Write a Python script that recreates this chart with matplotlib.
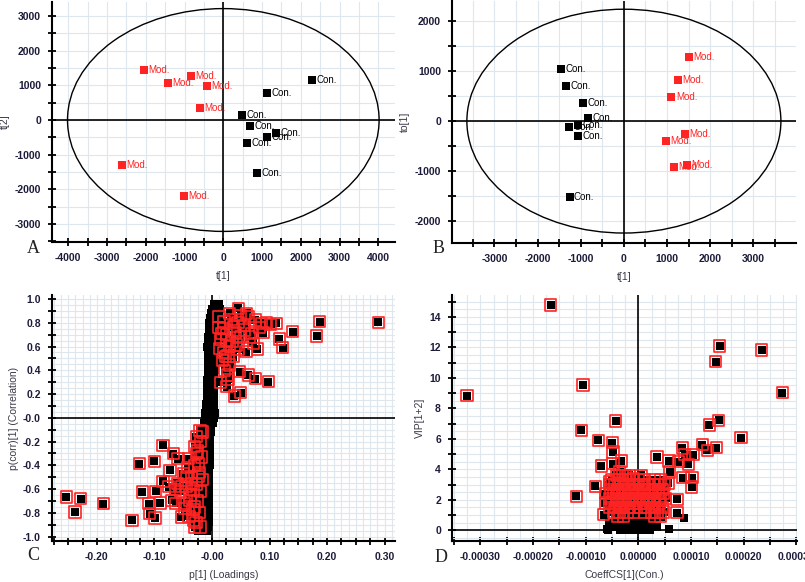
import numpy as np
import matplotlib.pyplot as plt
from matplotlib.patches import Ellipse
from matplotlib.ticker import MultipleLocator, FuncFormatter

plt.rcParams['font.family'] = 'Liberation Sans'

# ---- A: PCA scores t[1] / t[2]
a_mod_x = [-2050, -830, -1420, -430, -610, -2610, -1010]
a_mod_y = [1450, 1270, 1060, 990, 360, -1300, -2200]
a_con_x = [2290, 1120, 480, 700, 1360, 1120, 620, 870]
a_con_y = [1140, 770, 130, -160, -370, -480, -660, -1540]
a_ellipse = (4020, 3210)

# ---- B: OPLS-DA scores t[1] / to[1]
b_con_x = [-1460, -1350, -950, -830, -1275, -1065, -1065, -1260]
b_con_y = [1040, 710, 355, 70, -110, -80, -300, -1520]
b_mod_x = [1510, 1250, 1100, 1420, 980, 1460, 1165]
b_mod_y = [1290, 820, 490, -260, -400, -880, -930]
b_ellipse = (3640, 2245)

# ---- C: S-plot, non significant band (three columns of points per level)
c_band_y = [0.96, 0.92, 0.88, 0.84, 0.80, 0.76, 0.72, 0.68, 0.64, 0.60,
            0.56, 0.52, 0.48, 0.44, 0.40, 0.36, 0.32, 0.28, 0.24, 0.20,
            0.16, 0.12, 0.08, 0.04, 0.00, -0.04, -0.08, -0.12, -0.16, -0.20,
            -0.24, -0.28, -0.32, -0.36, -0.40, -0.44, -0.48, -0.52, -0.56, -0.60,
            -0.64, -0.68, -0.72, -0.76, -0.80, -0.84, -0.88, -0.92, -0.95]
c_band_xl = [0.004, 0.000, -0.002, -0.004, -0.005, -0.006, -0.006, -0.007, -0.007, -0.008,
             -0.007, -0.007, -0.007, -0.007, -0.007, -0.007, -0.008, -0.008, -0.008, -0.009,
             -0.009, -0.010, -0.011, -0.012, -0.013, -0.014, -0.014, -0.015, -0.015, -0.016,
             -0.016, -0.017, -0.017, -0.018, -0.018, -0.019, -0.019, -0.020, -0.020, -0.021,
             -0.021, -0.022, -0.022, -0.023, -0.023, -0.024, -0.025, -0.025, -0.024]
c_band_xm = [0.008, 0.007, 0.005, 0.004, 0.003, 0.002, 0.002, 0.001, 0.000, 0.000,
             0.000, -0.001, -0.001, -0.001, -0.002, -0.002, -0.002, -0.003, -0.003, -0.003,
             -0.004, -0.004, -0.005, -0.005, -0.006, -0.007, -0.008, -0.009, -0.009, -0.010,
             -0.010, -0.011, -0.011, -0.012, -0.012, -0.012, -0.013, -0.013, -0.013, -0.014,
             -0.014, -0.014, -0.015, -0.015, -0.015, -0.016, -0.016, -0.016, -0.016]
c_band_xr = [0.012, 0.014, 0.012, 0.011, 0.010, 0.009, 0.008, 0.008, 0.007, 0.007,
             0.006, 0.006, 0.005, 0.005, 0.005, 0.004, 0.004, 0.004, 0.003, 0.003,
             0.003, 0.003, 0.004, 0.005, 0.004, 0.001, -0.001, -0.002, -0.003, -0.003,
             -0.003, -0.004, -0.004, -0.004, -0.004, -0.005, -0.005, -0.005, -0.005, -0.005,
             -0.005, -0.005, -0.006, -0.006, -0.006, -0.006, -0.006, -0.007, -0.008]

# ---- C: S-plot, significant variables
c_sig_x = [0.289, 0.187, 0.182, 0.140, 0.117, 0.123, 0.112, 0.102, 0.086, 0.089,
           0.079, 0.098, 0.075, 0.063, 0.048, 0.050, 0.039, 0.028, 0.046, 0.060,
           0.075, 0.059, 0.072, 0.037, 0.031, 0.021, 0.031, 0.037, 0.057, 0.049,
           0.026, 0.017, 0.014, 0.023, 0.043, 0.026, 0.063, 0.069,
           0.012, 0.020, 0.025, 0.015, 0.030, 0.020, 0.040, 0.045, 0.033, 0.050,
           0.055, 0.018, 0.022, 0.027, 0.015, 0.035, 0.012, 0.028, 0.045, 0.065,
           0.082, 0.095,
           -0.253, -0.228, -0.238, -0.189, -0.139, -0.126, -0.100, -0.085, -0.121, -0.098,
           -0.099, -0.110, -0.108, -0.090, -0.070, -0.085, -0.067, -0.059, -0.064, -0.053,
           -0.047, -0.041, -0.044, -0.032, -0.027, -0.021, -0.030, -0.024, -0.032, -0.038,
           -0.030, -0.050, -0.073, -0.035, -0.024, -0.021, -0.027, -0.053,
           -0.020, -0.025, -0.018, -0.030, -0.022, -0.035, -0.028, -0.020, -0.038, -0.025,
           -0.033, -0.022, -0.040, -0.028, -0.045, -0.055, -0.060, -0.017, -0.042, -0.016,
           -0.030, -0.063, -0.075, -0.048]
c_sig_y = [0.803, 0.809, 0.688, 0.725, 0.663, 0.590, 0.795, 0.787, 0.795, 0.716,
           0.579, 0.303, 0.331, 0.360, 0.388, 0.213, 0.183, 0.323, 0.921, 0.879,
           0.823, 0.556, 0.626, 0.514, 0.444, 0.809, 0.879, 0.767, 0.739, 0.683,
           0.654, 0.711, 0.584, 0.514, 0.612, 0.261, 0.851, 0.711,
           0.85, 0.75, 0.70, 0.66, 0.60, 0.55, 0.72, 0.80, 0.83, 0.86,
           0.78, 0.48, 0.40, 0.36, 0.30, 0.64, 0.76, 0.52, 0.58, 0.68,
           0.76, 0.80,
           -0.666, -0.680, -0.792, -0.722, -0.862, -0.385, -0.365, -0.230, -0.624, -0.618,
           -0.843, -0.722, -0.806, -0.716, -0.694, -0.534, -0.301, -0.343, -0.604, -0.834,
           -0.764, -0.343, -0.497, -0.862, -0.160, -0.104, -0.244, -0.385, -0.610, -0.694,
           -0.750, -0.469, -0.441, -0.553, -0.497, -0.919, -0.301, -0.581,
           -0.20, -0.28, -0.33, -0.40, -0.46, -0.50, -0.56, -0.62, -0.65, -0.70,
           -0.77, -0.80, -0.83, -0.88, -0.58, -0.62, -0.55, -0.52, -0.42, -0.12,
           -0.92, -0.72, -0.58, -0.72]

# ---- D: VIP vs coefficients (x in units of 1e-4)
d_sig_x = [-1.665, 1.544, 2.342, 1.468, -1.051, -3.253, 2.728, -0.430, 1.525, 1.342,
           -1.082, 1.949, -0.759, -0.494, -0.481, 1.215, 1.304, 1.481, 0.835, 1.038,
           0.880, 0.354, 0.949, 0.759, 0.582, -0.703, -0.323, -0.481, 0.595, 0.848,
           1.019, 1.013, -0.816, -1.177, -0.627, 0.734, 0.734, -0.658, -0.627, -0.544,
           0.570, -0.354, -0.240, -0.100,
           -0.42, -0.30, -0.18, 0.05,
           -0.50, -0.38, -0.25, -0.12, 0.00, 0.12, 0.30, 0.42,
           -0.55, -0.45, -0.33, -0.20, -0.08, 0.05, 0.18, 0.28, 0.38, 0.50,
           -0.52, -0.40, -0.30, -0.18, -0.05, 0.08, 0.20, 0.32, 0.45,
           -0.48, -0.36, -0.25, -0.12, 0.00, 0.12, 0.25, 0.38, 0.48,
           -0.55, -0.42, -0.30, -0.18, -0.05, 0.08, 0.20, 0.30, 0.42, 0.52,
           -0.50, -0.38, -0.25, -0.12, 0.02, 0.15, 0.28, 0.40,
           -0.55, -0.44, -0.32, -0.20, -0.08, 0.05, 0.18, 0.30, 0.45,
           -0.48, -0.36, -0.22, -0.10, 0.12, 0.25, 0.35, 0.48,
           -0.40, -0.28, 0.30, 0.42]
d_sig_y = [14.77, 12.08, 11.82, 11.05, 9.52, 8.82, 9.02, 7.16, 7.22, 6.91,
           6.56, 6.08, 5.91, 5.75, 5.14, 5.62, 5.25, 5.43, 5.40, 4.97,
           4.97, 4.81, 4.33, 4.49, 4.55, 4.22, 4.55, 4.38, 3.83, 3.46,
           3.46, 2.84, 2.89, 2.23, 2.41, 2.03, 1.16, 1.03, 1.79, 3.17,
           3.11, 3.83, 3.60, 3.40,
           3.6, 3.6, 3.6, 3.6,
           3.3, 3.3, 3.3, 3.3, 3.3, 3.3, 3.3, 3.3,
           3.0, 3.0, 3.0, 3.0, 3.0, 3.0, 3.0, 3.0, 3.0, 3.0,
           2.7, 2.7, 2.7, 2.7, 2.7, 2.7, 2.7, 2.7, 2.7,
           2.4, 2.4, 2.4, 2.4, 2.4, 2.4, 2.4, 2.4, 2.4,
           2.1, 2.1, 2.1, 2.1, 2.1, 2.1, 2.1, 2.1, 2.1, 2.1,
           1.8, 1.8, 1.8, 1.8, 1.8, 1.8, 1.8, 1.8,
           1.5, 1.5, 1.5, 1.5, 1.5, 1.5, 1.5, 1.5, 1.5,
           1.2, 1.2, 1.2, 1.2, 1.2, 1.2, 1.2, 1.2,
           0.9, 0.9, 0.9, 0.9]
d_low_x = [0.861, 0.582, -0.589,
           -0.25, -0.12, 0.00, 0.12,
           -0.45, -0.32, -0.20, -0.08, 0.05, 0.18, 0.28,
           -0.55, -0.42, -0.30, -0.18, -0.05, 0.08, 0.20, 0.32,
           -0.52, -0.38, -0.25, -0.12, 0.00, 0.12, 0.25, 0.36,
           -0.58, -0.35, -0.20, -0.05, 0.10, 0.22]
d_low_y = [0.83, 0.09, 0.09,
           1.1, 1.1, 1.1, 1.1,
           0.8, 0.8, 0.8, 0.8, 0.8, 0.8, 0.8,
           0.5, 0.5, 0.5, 0.5, 0.5, 0.5, 0.5, 0.5,
           0.25, 0.25, 0.25, 0.25, 0.25, 0.25, 0.25, 0.25,
           0.05, 0.05, 0.05, 0.05, 0.05, 0.05]

RED = '#ff2424'
TICKC = '#1c1c3a'
LABC = '#3a3a48'
GRIDC = '#dfe7ee'

fig = plt.figure(figsize=(8.05, 5.82), dpi=100)
axA = fig.add_axes([52/805, 1-242/582, 343/805, 240/582])
axB = fig.add_axes([452/805, 1-243/582, 344/805, 242/582])
axC = fig.add_axes([52/805, 1-541/582, 343/805, 246/582])
axD = fig.add_axes([452/805, 1-541/582, 345/805, 246/582])


def style(ax, xtick, xlab_every, xfmt, ytick, ylab_every, yfmt, xgrid, ygrid):
    for s in ['top', 'right']:
        ax.spines[s].set_visible(False)
    for s in ['left', 'bottom']:
        ax.spines[s].set_linewidth(1.5)
    ax.xaxis.set_major_locator(MultipleLocator(xtick))
    ax.yaxis.set_major_locator(MultipleLocator(ytick))
    ax.xaxis.set_minor_locator(MultipleLocator(xgrid))
    ax.yaxis.set_minor_locator(MultipleLocator(ygrid))

    def fx(v, p):
        k = v / xlab_every
        return xfmt(v) if abs(k - round(k)) < 1e-6 else ''

    def fy(v, p):
        k = v / ylab_every
        return yfmt(v) if abs(k - round(k)) < 1e-6 else ''
    ax.xaxis.set_major_formatter(FuncFormatter(fx))
    ax.yaxis.set_major_formatter(FuncFormatter(fy))
    ax.tick_params(which='major', direction='inout', length=6, width=1.3,
                   labelsize=7.5, labelcolor=TICKC, pad=5)
    ax.tick_params(which='minor', length=0)
    for lab in ax.get_xticklabels() + ax.get_yticklabels():
        lab.set_fontweight('bold')
    ax.grid(True, which='both', color=GRIDC, linewidth=0.8)
    ax.set_axisbelow(True)
    ax.axhline(0, color='black', linewidth=1.2, zorder=1.5)
    ax.axvline(0, color='black', linewidth=1.2, zorder=1.5)


def score_plot(ax, mod_x, mod_y, con_x, con_y, ell):
    ax.add_patch(Ellipse((0, 0), 2*ell[0], 2*ell[1], fill=False, color='black', lw=1.0, zorder=2))
    ax.scatter(mod_x, mod_y, marker='s', s=34, color=RED, zorder=3, linewidths=0)
    ax.scatter(con_x, con_y, marker='s', s=34, color='black', zorder=3, linewidths=0)
    for x, y in zip(mod_x, mod_y):
        ax.annotate('Mod.', (x, y), xytext=(3.2, 0), textcoords='offset points',
                    va='center', ha='left', fontsize=7, color=RED, zorder=4)
    for x, y in zip(con_x, con_y):
        ax.annotate('Con.', (x, y), xytext=(3.2, 0), textcoords='offset points',
                    va='center', ha='left', fontsize=7, color='black', zorder=4)


def int_fmt(v):
    return f"{v:.0f}" if abs(v) > 1e-9 else "0"


# A
score_plot(axA, a_mod_x, a_mod_y, a_con_x, a_con_y, a_ellipse)
axA.set_xlim(-4420, 4430)
axA.set_ylim(-3515, 3400)
style(axA, 500, 1000, int_fmt, 500, 1000, int_fmt, 500, 500)
axA.set_xlabel('t[1]', fontsize=7.5, color=LABC, labelpad=6)
axA.set_ylabel('t[2]', fontsize=7.5, color=LABC, labelpad=3)

# B
score_plot(axB, b_mod_x, b_mod_y, b_con_x, b_con_y, b_ellipse)
axB.set_xlim(-3985, 3990)
axB.set_ylim(-2445, 2410)
style(axB, 500, 1000, int_fmt, 500, 1000, int_fmt, 500, 500)
axB.set_xlabel('t[1]', fontsize=7.5, color=LABC, labelpad=6)
axB.set_ylabel('to[1]', fontsize=7.5, color=LABC, labelpad=3)

# C
for bx in (c_band_xl, c_band_xm, c_band_xr):
    axC.scatter(bx, c_band_y, marker='s', s=34, color='black', linewidths=0, zorder=2)
axC.scatter(c_sig_x, c_sig_y, marker='s', s=32, color='black', linewidths=0, zorder=3)
axC.scatter(c_sig_x, c_sig_y, marker='s', s=66, facecolors='none', edgecolors=RED,
            linewidths=1.2, zorder=3)
axC.set_xlim(-0.278, 0.318)
axC.set_ylim(-1.037, 1.034)
style(axC, 0.025, 0.1, lambda v: f"{v:.2f}" if abs(v) > 1e-9 else "-0.00",
      0.1, 0.2, lambda v: f"{v:.1f}" if abs(v) > 1e-9 else "-0.0", 0.0125, 0.05)
axC.set_xlabel('p[1] (Loadings)', fontsize=7.5, color=LABC, labelpad=6)
axC.set_ylabel('p(corr)[1] (Correlation)', fontsize=7.5, color=LABC, labelpad=3)

# D
dsx = np.array(d_sig_x) * 1e-4
dlx = np.array(d_low_x) * 1e-4
axD.scatter(dlx, d_low_y, marker='s', s=34, color='black', linewidths=0, zorder=2)
axD.scatter(dsx, d_sig_y, marker='s', s=32, color='black', linewidths=0, zorder=3)
axD.scatter(dsx, d_sig_y, marker='s', s=66, facecolors='none', edgecolors=RED,
            linewidths=1.2, zorder=3)
axD.set_xlim(-3.54e-4, 3.01e-4)
axD.set_ylim(-0.7, 15.43)
style(axD, 5e-5, 1e-4, lambda v: f"{v:.5f}" if abs(v) > 1e-12 else "0.00000",
      1, 2, int_fmt, 2.5e-5, 0.5)
axD.set_xlabel('CoeffCS[1](Con.)', fontsize=7.5, color=LABC, labelpad=6)
axD.set_ylabel('VIP[1+2]', fontsize=7.5, color=LABC, labelpad=3)

# panel letters
for letter, x, y in [('A', 27, 253), ('B', 433, 253), ('C', 27, 560), ('D', 435, 562)]:
    fig.text(x/805, 1-y/582, letter, fontsize=13, family='Liberation Serif', color='#222222')

fig.savefig('out.png', dpi=100)
